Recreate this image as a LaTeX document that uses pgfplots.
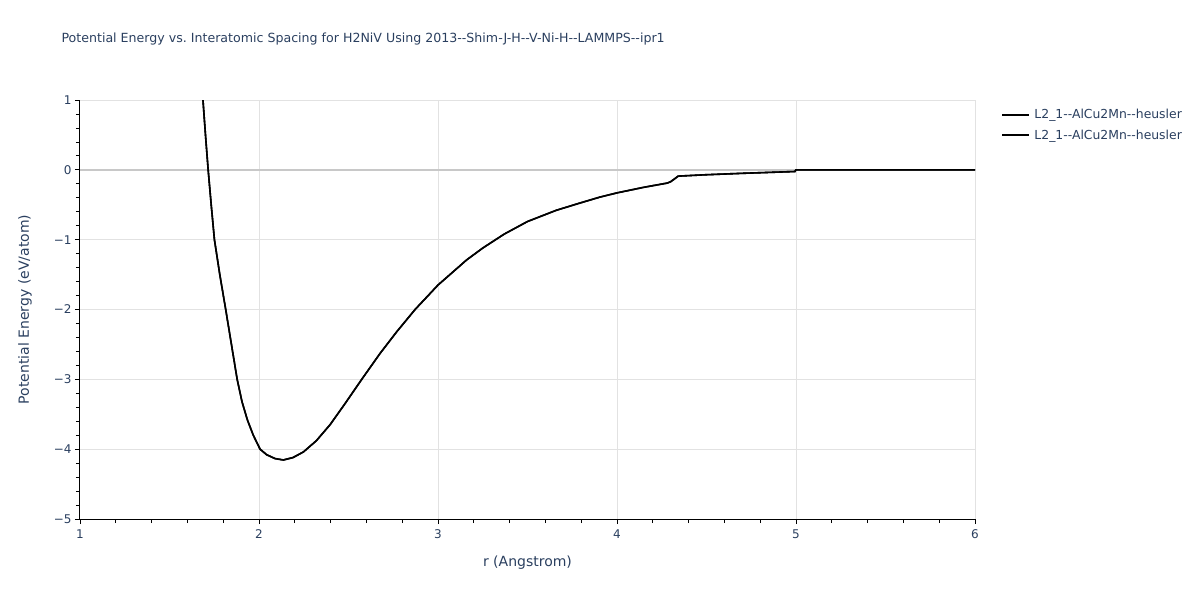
\documentclass[border=0pt]{standalone}
\usepackage{fontspec}
\setmainfont{DejaVu Sans}[Ligatures=TeXOff]
\usepackage{pgfplots}
\pgfplotsset{compat=1.18}
\definecolor{plotlytext}{HTML}{2A3F5F}
\definecolor{gridgray}{HTML}{E2E2E2}
\definecolor{zerogray}{HTML}{C8C8C8}

\pgfplotstableread{
r E
1.687 1.00
1.701 0.50
1.716 0.00
1.733 -0.50
1.751 -1.00
1.781 -1.50
1.814 -2.00
1.846 -2.50
1.878 -3.00
1.905 -3.32
1.935 -3.58
1.968 -3.80
2.006 -4.00
2.043 -4.08
2.090 -4.135
2.136 -4.155
2.190 -4.12
2.248 -4.04
2.320 -3.88
2.397 -3.65
2.480 -3.35
2.574 -3.00
2.676 -2.63
2.769 -2.32
2.872 -2.00
3.000 -1.65
3.160 -1.29
3.250 -1.12
3.370 -0.92
3.500 -0.74
3.660 -0.58
3.800 -0.47
3.905 -0.39
4.000 -0.33
4.150 -0.25
4.280 -0.19
4.300 -0.17
4.342 -0.09
4.500 -0.07
4.700 -0.05
4.994 -0.024
5.000 0.0
6.000 0.0
}\energy

\begin{document}
\frenchspacing
\begin{tikzpicture}[x=1pt,y=1pt]
\path[use as bounding box] (0,0) rectangle (1200,600);
\begin{axis}[
    at={(80pt,81pt)}, anchor=south west,
    width=895pt, height=419pt, scale only axis,
    xmin=1, xmax=6, ymin=-5, ymax=1,
    xtick={1,2,3,4,5,6},
    ytick={-5,-4,-3,-2,-1,0,1},
    yticklabels={−5,−4,−3,−2,−1,0,1},
    minor x tick num=4, minor y tick num=4,
    axis lines=left, axis line style={-, black, line width=1pt},
    tick align=outside, tick pos=left,
    major tick length=5pt, minor tick length=4pt,
    tick style={black, line width=0.8pt},
    ymajorgrids, xmajorgrids,
    major grid style={gridgray, line width=1pt},
    minor grid style={draw=none},
    tick label style={font=\fontsize{12}{14}\selectfont, text=plotlytext},
    /pgf/number format/assume math mode=true,
    xticklabel style={yshift=-2pt},
    title={Potential Energy vs. Interatomic Spacing for H2NiV Using 2013--Shim-J-H--V-Ni-H--LAMMPS--ipr1},
    title style={at={(rel axis cs:-0.0246,1.131)}, anchor=west, font=\fontsize{12.6}{14}\selectfont, text=plotlytext},
    xlabel={r (Angstrom)},
    xlabel style={at={(rel axis cs:0.5,-0.105)}, anchor=center, font=\fontsize{14}{16}\selectfont, text=plotlytext},
    ylabel={Potential Energy (eV/atom)},
    ylabel style={at={(rel axis cs:-0.0615,0.5)}, anchor=center, rotate=0, font=\fontsize{14}{16}\selectfont, text=plotlytext},
    legend style={at={(rel axis cs:1.026,0.988)}, anchor=north west, draw=none, fill=none,
        font=\fontsize{12.4}{14}\selectfont, text=plotlytext, row sep=5.5pt,
        nodes={inner xsep=4pt}},
    legend cell align=left,
    clip=true,
]
\addplot[zerogray, line width=1.8pt, forget plot] coordinates {(1,0) (6,0)};
\addplot[black, line width=1.6pt,
    legend image code/.code={\draw[black, line width=2pt] (0pt,0pt) -- (27pt,0pt);}]
    table[x=r, y=E] {\energy};
\addlegendentry{L2\_1--AlCu2Mn--heusler}
\addplot[black, line width=1.6pt,
    legend image code/.code={\draw[black, line width=2pt] (0pt,0pt) -- (27pt,0pt);}]
    table[x=r, y=E] {\energy};
\addlegendentry{L2\_1--AlCu2Mn--heusler}
\end{axis}
\end{tikzpicture}
\end{document}
